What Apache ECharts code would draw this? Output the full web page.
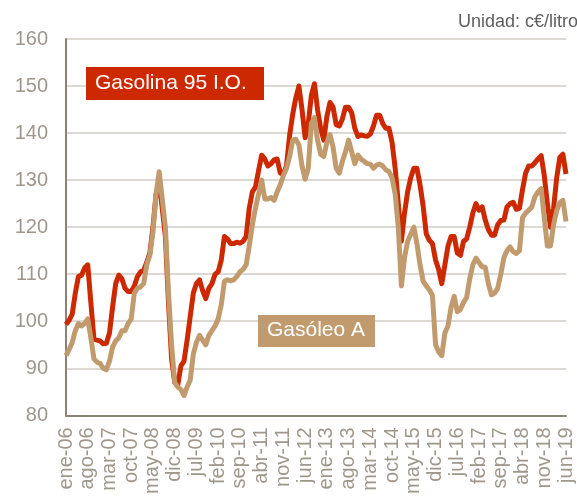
<!DOCTYPE html>
<html>
<head>
<meta charset="utf-8">
<script src="https://cdn.jsdelivr.net/npm/echarts@6/dist/echarts.min.js"></script>
<style>
  html, body { margin: 0; padding: 0; background: #ffffff; }
  #chart { width: 577px; height: 497px; }
</style>
</head>
<body>
<div id="chart"></div>
<script>
// Monthly retail fuel prices, c€/litro, ene-2006 .. jun-2019
const meses = ['ene', 'feb', 'mar', 'abr', 'may', 'jun', 'jul', 'ago', 'sep', 'oct', 'nov', 'dic'];
const primerAnio = 2006;
const yTicks = [80, 90, 100, 110, 120, 130, 140, 150, 160];

const gasolina = [
  99.3, 100.2, 101.5, 106, 109.5, 109.8, 111.3, 112, 104, 96.2, 96, 95.8,
  95.2, 95.3, 97.5, 103, 108, 109.8, 109, 107, 106.3, 106.3, 107.5, 109.5,
  110.5, 110.8, 112.5, 114.5, 120, 127, 129.5, 124, 118, 104, 92, 87,
  86.5, 90.5, 91.5, 96, 101, 106, 108, 108.8, 106.5, 104.8, 107, 108,
  110, 110.5, 113, 118, 117.5, 116.5, 116.5, 116.8, 116.6, 117, 118, 124,
  127.5, 128.5, 132, 135.3, 134.5, 133, 133.5, 134.3, 134.5, 131.5, 131.3, 133,
  139.5, 144, 147.5, 150, 145, 139, 142, 148, 150.5, 145, 141, 138.5,
  143.5, 146.5, 145.5, 141.8, 141.5, 143, 145.5, 145.5, 144.3, 141, 139.3, 139.6,
  139.4, 139.3, 139.8, 141.5, 143.8, 143.8, 142, 141, 141, 138, 132.5, 125,
  117, 123, 127.5, 130.5, 132.5, 132.5, 129, 124.5, 118.6, 117.2, 116.5, 113,
  111, 108, 112, 116, 118, 118, 114.5, 114, 117, 117.5, 120, 123,
  125, 123.6, 124.3, 121.5, 119.5, 118.3, 118.3, 120.5, 121.4, 121.5, 124.3, 125,
  125.3, 123.8, 124, 128, 131.5, 133, 133, 133.7, 134.5, 135.2, 131, 125,
  120, 124, 130.5, 134.8, 135.5, 131.3
];

const gasoleo = [
  92.7, 94, 95.5, 98, 99.5, 99, 99.5, 100.5, 96.5, 92, 91.3, 91,
  90, 89.7, 91.5, 94.5, 95.8, 96.5, 98, 98, 99.5, 100.5, 106, 107,
  107.3, 108, 112, 114, 119, 127, 131.8, 126, 120, 106, 95, 87,
  86, 85.5, 84.2, 86, 87.5, 93, 95.5, 97, 96, 95, 97, 98,
  99, 100.5, 103.5, 108.5, 108.8, 108.6, 108.8, 109.5, 110.5, 111, 112, 116,
  120.5, 124, 127, 130, 126, 126, 126.3, 125.7, 127.5, 129, 131, 132.5,
  135, 138.5, 138.7, 137.5, 133, 130.2, 132.5, 142, 143.3, 138.5, 135.5, 135,
  138, 139.7, 137, 132.5, 131.5, 134, 136, 138.5, 136, 133.5, 135.3, 134.5,
  134, 133.5, 133.4, 132.5, 133.2, 133.4, 133, 132.2, 131.8, 130.5, 127, 120,
  107.5, 113.5, 117, 118.5, 120, 116.5, 112, 108.5, 107.5, 106.7, 105.5, 95,
  93.5, 92.7, 97.5, 99, 103, 105.3, 102, 102.5, 104, 105, 109, 112,
  113.4, 112.5, 111.6, 111.5, 108, 105.6, 106, 107, 110, 113.5, 115, 115.8,
  114.8, 114.4, 115, 122, 123, 123.6, 124.3, 126.5, 127.5, 128.2, 122, 116,
  116, 120.5, 123.5, 125.2, 125.7, 121.2
];

// Category labels: "ene-06", "feb-06", ...
const categorias = gasolina.map(function (_, i) {
  const anio = primerAnio + Math.floor(i / 12);
  return meses[i % 12] + '-' + String(anio % 100).padStart(2, '0');
});

const ROJO = '#cc2900';
const TOSTADO = '#c19b6e';
const EJE = '#8c8275';
const TEXTO_EJE = '#a0978b';
const FUENTE = 'Liberation Sans, Arial, sans-serif';

const chart = echarts.init(document.getElementById('chart'), null, { renderer: 'canvas' });

chart.setOption({
  animation: false,
  backgroundColor: '#ffffff',
  textStyle: { fontFamily: FUENTE },
  grid: { left: 66, right: 11, top: 39, bottom: 79, containLabel: false },
  xAxis: {
    type: 'category',
    data: categorias,
    boundaryGap: false,
    axisLine: { show: true, lineStyle: { color: EJE, width: 2 } },
    axisTick: { show: false },
    splitLine: { show: false },
    axisLabel: {
      interval: 6,
      rotate: 90,
      margin: 12,
      fontSize: 20,
      color: TEXTO_EJE,
      fontFamily: FUENTE
    }
  },
  yAxis: {
    type: 'value',
    min: yTicks[0],
    max: yTicks[yTicks.length - 1],
    interval: yTicks[1] - yTicks[0],
    axisLine: { show: true, lineStyle: { color: EJE, width: 2 } },
    axisTick: { show: false },
    splitLine: { show: true, lineStyle: { color: '#dcd8d3', width: 2 } },
    axisLabel: { margin: 18, fontSize: 20, color: TEXTO_EJE, fontFamily: FUENTE }
  },
  series: [
    {
      name: 'Gasolina 95 I.O.',
      type: 'line',
      data: gasolina,
      showSymbol: false,
      symbol: 'none',
      lineStyle: { color: ROJO, width: 5, join: 'round' },
      itemStyle: { color: ROJO },
      z: 2
    },
    {
      name: 'Gasóleo A',
      type: 'line',
      data: gasoleo,
      showSymbol: false,
      symbol: 'none',
      lineStyle: { color: TOSTADO, width: 5, join: 'round' },
      itemStyle: { color: TOSTADO },
      z: 3
    }
  ],
  graphic: [
    {
      type: 'text',
      right: -1,
      top: 13,
      z: 100,
      style: { text: 'Unidad: c€/litro', fontSize: 18, fill: '#5f5f5f', fontFamily: FUENTE }
    },
    {
      type: 'rect',
      left: 86, top: 67, z: 100,
      shape: { width: 178, height: 33 },
      style: { fill: ROJO }
    },
    {
      type: 'text',
      left: 95, top: 73, z: 101,
      style: { text: 'Gasolina 95 I.O.', fontSize: 21, fill: '#ffffff', fontFamily: FUENTE }
    },
    {
      type: 'rect',
      left: 258, top: 315, z: 100,
      shape: { width: 117, height: 32 },
      style: { fill: TOSTADO }
    },
    {
      type: 'text',
      left: 267, top: 320, z: 101,
      style: { text: 'Gasóleo A', fontSize: 21, fill: '#ffffff', fontFamily: FUENTE }
    }
  ]
});
</script>
</body>
</html>
